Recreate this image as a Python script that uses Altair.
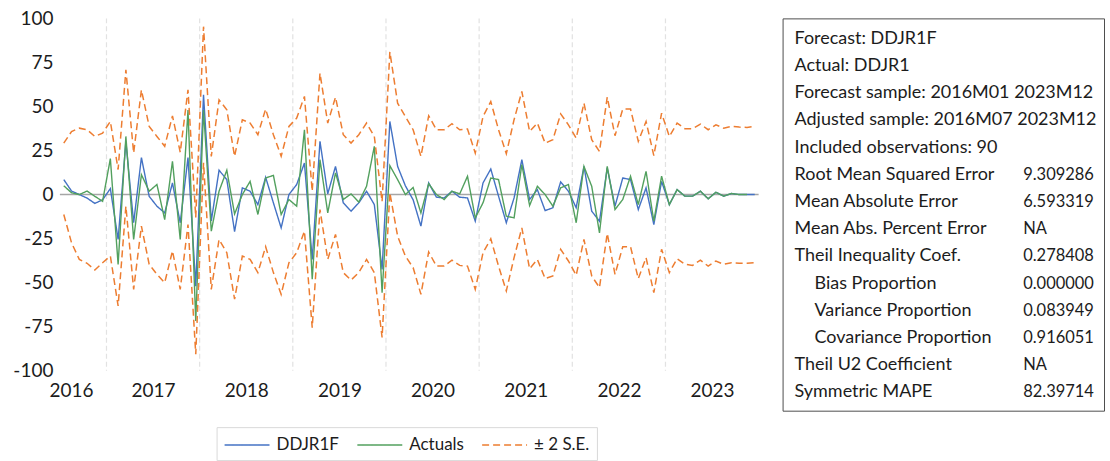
import altair as alt
import pandas as pd

# Monthly forecast evaluation, 2016M07 - 2023M12 (90 observations)
START_YEAR = 2016
START_MONTH = 7

FORECAST = [
    8.5, 2.0, 0.0, -2.0, -5.0, -3.0, 3.4, -25.5, 30.0, -16.0,
    21.0, -1.0, -6.6, -10.4, 6.6, -16.0, 21.0, -52.0, 56.6, -15.0,
    13.8, 8.5, -21.0, 3.8, 1.9, -5.7, 9.8, -4.7, -18.9, 0.0,
    5.7, 17.9, -36.8, 30.2, 0.4, 16.0, -4.7, -9.4, -4.7, 1.9,
    -5.7, -42.5, 41.5, 16.0, 5.0, -3.0, -17.9, 6.6, -1.5, -1.9,
    1.9, -1.5, -1.9, -15.1, 6.6, 14.5, -0.9, -16.0, -1.9, 19.8,
    -2.8, 2.8, -9.1, -7.5, 7.2, 1.9, -7.5, 16.0, -9.4, -15.1,
    15.1, -6.6, 9.4, 8.5, -8.5, 3.8, -17.0, 7.5, -5.7, 2.8,
    -0.9, -0.9, 1.9, -2.4, 1.3, -0.9, 0.6, 0.0, 0.0, 0.0,
]

ACTUAL = [
    5.0, 1.0, 0.0, 2.0, -1.0, -3.8, 20.4, -39.6, 33.0, -25.5,
    11.3, 1.9, 5.7, -14.2, 18.9, -25.5, 48.0, -71.7, 48.0, -20.8,
    1.9, 13.8, -11.0, 0.0, 7.5, -11.3, 9.4, 10.9, -11.3, -2.8,
    -6.6, 36.8, -48.1, 19.8, -10.4, 12.3, -2.8, 0.4, -4.3, 4.7,
    27.4, -55.7, 16.4, 8.5, 0.0, 4.0, -10.4, 6.2, 0.0, -2.8,
    1.9, 0.4, 10.4, -13.2, -4.7, 9.4, 8.5, -12.3, -13.2, 17.0,
    -6.2, 4.7, 0.0, -6.6, 3.8, 5.7, -16.0, 16.0, 4.7, -21.7,
    16.0, -8.5, -2.8, 10.4, -5.7, 13.2, -15.1, 10.4, -5.7, 2.8,
    -0.9, -0.9, 1.9, -2.4, 1.3, -0.9, 0.6, 0.0, 0.0, None,
]

UPPER_2SE = [
    29.2, 35.8, 37.7, 36.8, 33.0, 34.9, 41.5, 14.2, 70.8, 23.6,
    59.4, 38.7, 33.0, 27.4, 44.7, 24.0, 59.4, -13.0, 95.3, 21.7,
    53.8, 48.1, 21.7, 42.5, 40.6, 34.0, 48.5, 34.0, 21.7, 38.7,
    43.4, 55.7, 1.9, 68.9, 40.6, 55.3, 34.0, 29.2, 34.0, 40.6,
    33.0, -4.0, 81.0, 51.9, 44.3, 36.8, 21.7, 44.7, 36.8, 36.8,
    40.2, 36.8, 37.2, 23.6, 44.3, 52.8, 36.8, 23.2, 42.5, 58.5,
    35.8, 40.6, 29.2, 31.1, 45.8, 39.6, 32.0, 51.9, 31.1, 24.5,
    55.3, 33.4, 48.5, 48.5, 30.2, 41.5, 22.1, 46.2, 33.0, 40.6,
    37.4, 37.4, 40.0, 36.8, 39.6, 37.7, 38.7, 38.3, 38.1, 38.7,
]

LOWER_2SE = [
    -11.3, -27.4, -36.8, -39.0, -42.8, -38.7, -34.9, -63.2, -6.6, -53.8,
    -17.9, -39.6, -45.3, -50.0, -32.0, -53.8, -17.0, -90.6, 18.0, -53.8,
    -25.5, -33.0, -59.4, -34.9, -36.8, -44.3, -29.6, -44.3, -56.6, -38.7,
    -33.0, -20.8, -75.5, -8.5, -36.8, -22.6, -44.3, -48.5, -44.3, -36.8,
    -44.3, -81.1, 1.0, -23.6, -34.9, -41.5, -56.6, -32.6, -40.6, -40.6,
    -37.2, -40.2, -40.6, -53.8, -33.0, -25.1, -40.6, -54.7, -35.8, -18.9,
    -42.1, -36.8, -47.7, -46.2, -31.1, -37.7, -45.8, -25.5, -46.2, -52.8,
    -22.1, -45.3, -29.6, -29.6, -47.7, -35.8, -55.7, -31.1, -44.3, -36.4,
    -39.6, -40.2, -37.2, -40.6, -37.7, -39.6, -38.7, -39.0, -39.0, -38.7,
]

SERIES = ["DDJR1F", "Actuals", "\u00b1 2 S.E."]
SERIES_COLORS = ["#4472C4", "#52A05E", "#ED7D31"]
SERIES_DASHES = [[1, 0], [1, 0], [7, 4]]

YEAR_LABELS = [2016, 2017, 2018, 2019, 2020, 2021, 2022, 2023]
YEAR_BOUNDARIES = [2017, 2018, 2019, 2020, 2021, 2022, 2023]

STAT_LABELS = [
    "Forecast: DDJR1F",
    "Actual: DDJR1",
    "Forecast sample: 2016M01 2023M12",
    "Adjusted sample: 2016M07 2023M12",
    "Included observations: 90",
    "Root Mean Squared Error",
    "Mean Absolute Error",
    "Mean Abs. Percent Error",
    "Theil Inequality Coef.",
    "Bias Proportion",
    "Variance Proportion",
    "Covariance Proportion",
    "Theil U2 Coefficient",
    "Symmetric MAPE",
]
STAT_VALUES = [
    "", "", "", "", "",
    "9.309286", "6.593319", "NA", "0.278408",
    "0.000000", "0.083949", "0.916051", "NA", "82.39714",
]
STAT_INDENT = [False] * 9 + [True] * 3 + [False] * 2

FONT = "Lato"
TEXT_COLOR = "#1c1c1c"

# ---- long-form table for the lines ----
rows = []
for k in range(len(FORECAST)):
    # each month sits in the middle of its twelfth of the year
    t = START_YEAR + (START_MONTH - 1 + k) / 12 + 1 / 24
    rows.append({"t": t, "series": SERIES[0], "part": "forecast", "value": FORECAST[k]})
    rows.append({"t": t, "series": SERIES[1], "part": "actual", "value": ACTUAL[k]})
    rows.append({"t": t, "series": SERIES[2], "part": "upper", "value": UPPER_2SE[k]})
    rows.append({"t": t, "series": SERIES[2], "part": "lower", "value": LOWER_2SE[k]})
lines_df = pd.DataFrame(rows)

x_scale = alt.Scale(domain=[2016.5, 2024.0], nice=False, zero=False)
y_scale = alt.Scale(domain=[-100, 100], nice=False)

# year labels sit in the middle of each visible calendar year
label_pos = [2016.62] + [y + 0.5 for y in YEAR_LABELS[1:]]

x_axis = alt.Axis(
    values=label_pos,
    labelExpr="floor(datum.value)",
    grid=False, ticks=False, domain=False,
    labelFont=FONT, labelFontSize=19, labelColor=TEXT_COLOR,
    labelPadding=11, labelOverlap=False, labelFlush=False, title=None,
)
y_axis = alt.Axis(
    values=list(range(-100, 101, 25)),
    labelExpr="'' + datum.value",
    grid=False, ticks=False, domain=False,
    labelFont=FONT, labelFontSize=19, labelColor=TEXT_COLOR,
    labelPadding=7, title=None,
)

legend = alt.Legend(
    orient="none", legendX=157, legendY=409.5, direction="horizontal",
    title=None,
    # a long horizontal stroke, drawn from the left edge of each entry
    symbolType="M-1,0L3.5,0", symbolSize=400, symbolStrokeWidth=1.5,
    labelFont=FONT, labelFontSize=17, labelColor=TEXT_COLOR,
    labelOffset=31, columnPadding=15,
    strokeColor="#d9d9d9", fillColor="white", padding=7,
)
color_enc = alt.Color(
    "series:N", scale=alt.Scale(domain=SERIES, range=SERIES_COLORS), legend=legend
)
dash_enc = alt.StrokeDash(
    "series:N", scale=alt.Scale(domain=SERIES, range=SERIES_DASHES), legend=legend
)

grid = alt.Chart(pd.DataFrame({"year": YEAR_BOUNDARIES})).mark_rule(
    color="#e2e2e2", strokeDash=[5, 3], strokeWidth=1.2
).encode(
    x=alt.X("year:Q", scale=x_scale, axis=x_axis),
    y=alt.datum(100, scale=y_scale),
    y2=alt.datum(-100),
)

zero_line = alt.Chart(pd.DataFrame({"v": [0]})).mark_rule(
    color="#a6a6a6", strokeWidth=1.5
).encode(y=alt.Y("v:Q", scale=y_scale, axis=y_axis))


def series_layer(name, width):
    return alt.Chart(lines_df).transform_filter(
        alt.datum.series == name
    ).mark_line(strokeWidth=width).encode(
        x=alt.X("t:Q", scale=x_scale, axis=x_axis),
        y=alt.Y("value:Q", scale=y_scale, axis=y_axis),
        color=color_enc,
        strokeDash=dash_enc,
        detail="part:N",
    )


plot = alt.layer(
    grid,
    zero_line,
    series_layer(SERIES[0], 1.4),
    series_layer(SERIES[1], 1.4),
    series_layer(SERIES[2], 1.5),
).properties(width=700, height=353)

# ---- statistics box ----
stats_df = pd.DataFrame({
    "row": list(range(1, len(STAT_LABELS) + 1)),
    "label": STAT_LABELS,
    "value": STAT_VALUES,
    "indent": STAT_INDENT,
})
row_scale = alt.Scale(domain=[0.25, 14.67], reverse=True, nice=False, zero=False)
row_enc = alt.Y("row:Q", scale=row_scale, axis=None)

label_base = alt.Chart(stats_df).mark_text(
    align="left", baseline="middle", font=FONT, fontSize=18, color=TEXT_COLOR
)
labels_plain = label_base.transform_filter(~alt.datum.indent).encode(
    x=alt.value(12), y=row_enc, text="label:N"
)
labels_indented = label_base.transform_filter(alt.datum.indent).encode(
    x=alt.value(32), y=row_enc, text="label:N"
)
values_col = alt.Chart(stats_df).mark_text(
    align="left", baseline="middle", font=FONT, fontSize=16.5, color=TEXT_COLOR
).encode(x=alt.value(241), y=row_enc, text="value:N")

stats_box = alt.layer(labels_plain, labels_indented, values_col).properties(
    width=322, height=393,
    view=alt.ViewBackground(stroke="#4d4d4d", strokeWidth=1),
)

chart = alt.hconcat(plot, stats_box, spacing=24, bounds="flush").properties(
    padding={"left": 12, "top": 9, "right": 5, "bottom": 0},
    background="white",
).configure_view(strokeWidth=0)

chart.save("out.html", embed_options={"renderer": "svg", "actions": False})
